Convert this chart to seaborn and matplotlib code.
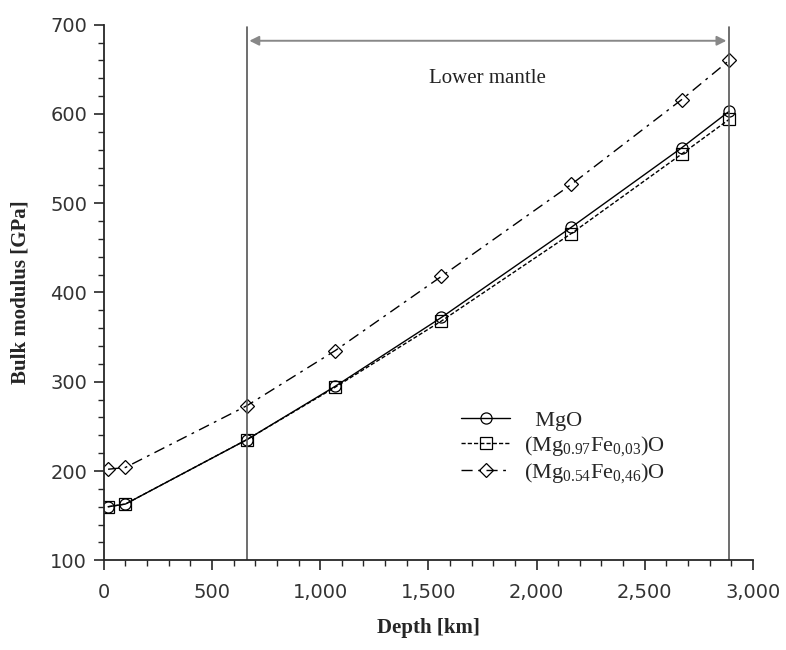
import matplotlib
matplotlib.use("Agg")
import matplotlib.pyplot as plt
from matplotlib.ticker import MultipleLocator, FuncFormatter
import pandas as pd
import seaborn as sns

depth = [20, 100, 660, 1070, 1560, 2160, 2670, 2890]
mgo = [160, 163, 235, 295, 372, 473, 562, 603]
mgfe_003 = [160, 163, 235, 294, 368, 466, 555, 594]
mgfe_046 = [202, 204, 273, 335, 418, 521, 616, 660]

series_labels = [
    "  MgO",
    r"(Mg$_{0.97}$Fe$_{0{,}03}$)O",
    r"(Mg$_{0.54}$Fe$_{0{,}46}$)O",
]

mantle_top = 660
mantle_bottom = 2890

df = pd.concat([
    pd.DataFrame({"depth": depth, "K": vals, "phase": lab})
    for vals, lab in zip([mgo, mgfe_003, mgfe_046], series_labels)
])

sns.set_style("ticks")
plt.rcParams["font.family"] = ["Liberation Serif", "DejaVu Serif"]
plt.rcParams["mathtext.fontset"] = "custom"
plt.rcParams["mathtext.rm"] = "Liberation Serif"
plt.rcParams["mathtext.it"] = "Liberation Serif"

fig = plt.figure(figsize=(7.86, 6.5), dpi=100)
ax = fig.add_axes([0.132, 0.138, 0.826, 0.824])

styles = {
    series_labels[0]: dict(ls="-", marker="o"),
    series_labels[1]: dict(ls=(0, (3, 1.5)), marker="s"),
    series_labels[2]: dict(ls=(0, (8, 4, 2, 4)), marker="D"),
}
for lab in series_labels:
    sub = df[df["phase"] == lab]
    st = styles[lab]
    sns.lineplot(
        data=sub, x="depth", y="K", ax=ax, color="black", lw=1.0,
        linestyle=st["ls"], marker=st["marker"], markersize=8 if st["marker"] != "D" else 7,
        markerfacecolor="none", markeredgecolor="black", markeredgewidth=0.9,
        label=lab,
    )

ax.axvline(mantle_top, ymin=0, ymax=0.995, color="#555555", lw=1.2)
ax.axvline(mantle_bottom, ymin=0, ymax=0.995, color="#555555", lw=1.2)
ax.annotate("", xy=(mantle_bottom, 682), xytext=(mantle_top, 682),
            arrowprops=dict(arrowstyle="<|-|>", color="#888888", lw=1.4,
                            mutation_scale=14))
ax.text((mantle_top + mantle_bottom) / 2, 640, "Lower mantle",
        ha="center", va="center", fontsize=15, color="#222222")

ax.set_xlim(0, 3000)
ax.set_ylim(100, 700)
ax.xaxis.set_major_locator(MultipleLocator(500))
ax.xaxis.set_minor_locator(MultipleLocator(100))
ax.yaxis.set_major_locator(MultipleLocator(100))
ax.yaxis.set_minor_locator(MultipleLocator(20))
ax.xaxis.set_major_formatter(FuncFormatter(lambda v, p: f"{int(v):,}"))
ax.tick_params(which="major", length=7, width=1.2, labelsize=14, labelcolor="#333333")
ax.tick_params(axis="x", which="major", pad=9)
ax.tick_params(axis="y", which="major", pad=5)
ax.tick_params(which="minor", length=4, width=1.0)
for lbl in ax.get_xticklabels() + ax.get_yticklabels():
    lbl.set_family(["DejaVu Sans"])
sns.despine(ax=ax)
for sp in ["left", "bottom"]:
    ax.spines[sp].set_linewidth(1.3)

ax.set_xlabel("Depth [km]", fontsize=15, fontweight="bold", labelpad=12)
ax.set_ylabel("Bulk modulus [GPa]", fontsize=15, fontweight="bold", labelpad=14)

leg = ax.legend(loc="center left", bbox_to_anchor=(0.52, 0.21), frameon=False,
                fontsize=16, handlelength=2.2, labelspacing=0.15, handletextpad=0.6)

fig.savefig("out.png", dpi=100)
